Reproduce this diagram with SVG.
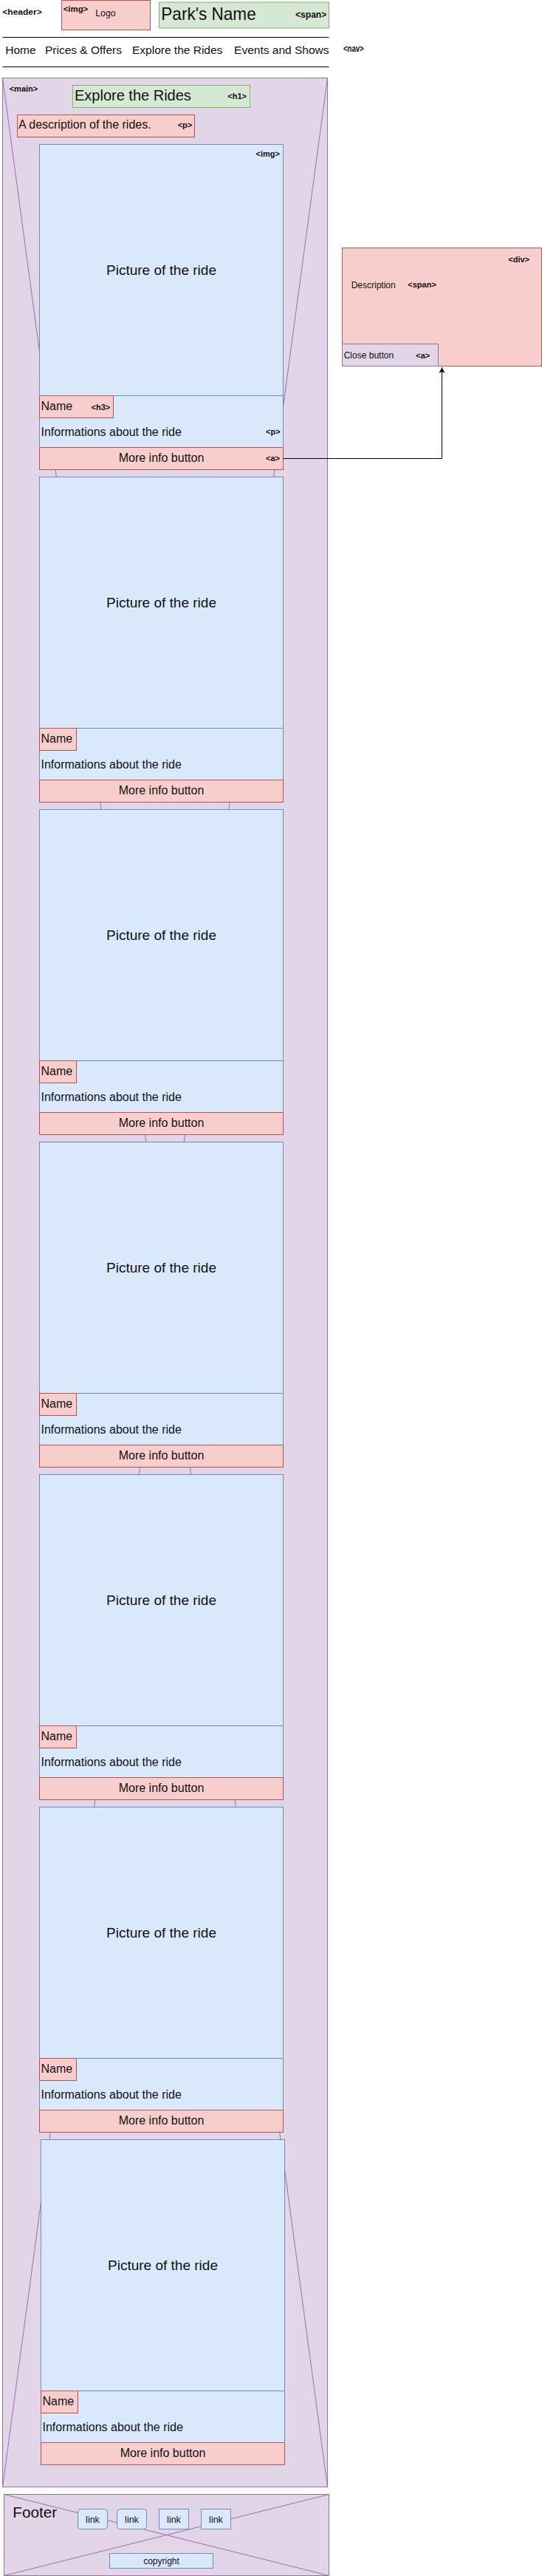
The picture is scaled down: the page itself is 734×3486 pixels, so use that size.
<svg xmlns="http://www.w3.org/2000/svg" width="734" height="3486" viewBox="0 0 734 3486">
<style>
text{font-family:"Liberation Sans",Arial,sans-serif;fill:#111}
.tag{font-weight:bold;font-size:11px}
.blue{fill:#dae8fc;stroke:#6c8ebf;stroke-width:1}
.red{fill:#f8cecc;stroke:#b85450;stroke-width:1}
.green{fill:#d5e8d4;stroke:#82b366;stroke-width:1}
.purple{fill:#e1d5e7;stroke:#9673a6;stroke-width:1}
.diag{stroke:#9673a6;stroke-width:1;fill:none}
.t16{font-size:16px}
.t19{font-size:19px}
.nav{font-size:15.5px}
.mid{text-anchor:middle}
</style>
<defs>
<marker id="arr" markerWidth="10" markerHeight="10" refX="9" refY="5" orient="auto" markerUnits="userSpaceOnUse">
<path d="M1,1 L9,5 L1,9 L3,5 Z" fill="#000"/>
</marker>
</defs>
<rect width="734" height="3486" fill="#fff"/>

<g id="header">
<text class="tag" x="3.3" y="19.5" textLength="53.4" lengthAdjust="spacingAndGlyphs">&lt;header&gt;</text>
</g>
<g id="logo">
<rect class="red" x="83.5" y="0.5" width="120" height="40"/>
<text class="tag" x="85.7" y="15.5" textLength="33.6" lengthAdjust="spacingAndGlyphs">&lt;img&gt;</text>
<text style="font-size:12px" x="129.3" y="21.5" textLength="27.3" lengthAdjust="spacingAndGlyphs">Logo</text>
</g>
<g id="parkname">
<rect class="green" x="215.5" y="3" width="230" height="35"/>
<text style="font-size:24px" x="218.3" y="26.5" textLength="128.4" lengthAdjust="spacingAndGlyphs">Park's Name</text>
<text class="tag" style="font-size:12px" x="400" y="24" textLength="42.3" lengthAdjust="spacingAndGlyphs">&lt;span&gt;</text>
</g>
<g id="nav">
<line x1="3.5" y1="50.5" x2="445.5" y2="50.5" stroke="#000" stroke-width="1"/>
<line x1="3.5" y1="90.5" x2="445.5" y2="90.5" stroke="#000" stroke-width="1"/>
<text class="nav" x="7.3" y="72.5">Home</text>
<text class="nav" x="61" y="72.5">Prices &amp; Offers</text>
<text class="nav" x="179" y="72.5">Explore the Rides</text>
<text class="nav" x="445.5" y="72.5" text-anchor="end">Events and Shows</text>
<text class="tag" style="font-size:12px" x="465" y="69.5" textLength="27.7" lengthAdjust="spacingAndGlyphs">&lt;nav&gt;</text>
</g>

<g id="main">
<rect class="purple" x="3.5" y="105.5" width="440" height="3260"/>
<line class="diag" x1="3.5" y1="105.5" x2="443.5" y2="3365.5"/>
<line class="diag" x1="443.5" y1="105.5" x2="3.5" y2="3365.5"/>
<text class="tag" x="12.7" y="124">&lt;main&gt;</text>
</g>
<g id="h1">
<rect class="green" x="98.5" y="115.5" width="240" height="30"/>
<text style="font-size:20px" x="101" y="136">Explore the Rides</text>
<text class="tag" x="308.3" y="134">&lt;h1&gt;</text>
</g>
<g id="desc">
<rect class="red" x="23.5" y="155.5" width="240" height="30"/>
<text class="t16" x="25" y="174">A description of the rides.</text>
<text class="tag" x="240.7" y="173">&lt;p&gt;</text>
</g>

<g id="card1" transform="translate(53.5,195.5)">
<rect class="blue" x="0" y="0" width="330" height="340"/>
<text class="t19 mid" x="165" y="176">Picture of the ride</text>
<text class="tag" x="293" y="16.5">&lt;img&gt;</text>
<rect class="blue" x="0" y="340" width="330" height="70"/>
<rect class="red" x="0" y="340" width="100" height="30"/>
<text class="t16" x="2" y="359.5">Name</text>
<text class="tag" x="70" y="359.5">&lt;h3&gt;</text>
<text class="t16" x="2" y="394.5">Informations about the ride</text>
<text class="tag" x="306.5" y="392.5">&lt;p&gt;</text>
<rect class="red" x="0" y="410" width="330" height="30"/>
<text class="t16 mid" x="165" y="429.5">More info button</text>
<text class="tag" x="306.5" y="428.5">&lt;a&gt;</text>
</g>

<g id="card2" transform="translate(53.5,645.5)">
<rect class="blue" x="0" y="0" width="330" height="340"/>
<text class="t19 mid" x="165" y="176">Picture of the ride</text>
<rect class="blue" x="0" y="340" width="330" height="70"/>
<rect class="red" x="0" y="340" width="50" height="30"/>
<text class="t16" x="2" y="359.5">Name</text>
<text class="t16" x="2" y="394.5">Informations about the ride</text>
<rect class="red" x="0" y="410" width="330" height="30"/>
<text class="t16 mid" x="165" y="429.5">More info button</text>
</g>

<g id="card3" transform="translate(53.5,1095.5)">
<rect class="blue" x="0" y="0" width="330" height="340"/>
<text class="t19 mid" x="165" y="176">Picture of the ride</text>
<rect class="blue" x="0" y="340" width="330" height="70"/>
<rect class="red" x="0" y="340" width="50" height="30"/>
<text class="t16" x="2" y="359.5">Name</text>
<text class="t16" x="2" y="394.5">Informations about the ride</text>
<rect class="red" x="0" y="410" width="330" height="30"/>
<text class="t16 mid" x="165" y="429.5">More info button</text>
</g>

<g id="card4" transform="translate(53.5,1545.5)">
<rect class="blue" x="0" y="0" width="330" height="340"/>
<text class="t19 mid" x="165" y="176">Picture of the ride</text>
<rect class="blue" x="0" y="340" width="330" height="70"/>
<rect class="red" x="0" y="340" width="50" height="30"/>
<text class="t16" x="2" y="359.5">Name</text>
<text class="t16" x="2" y="394.5">Informations about the ride</text>
<rect class="red" x="0" y="410" width="330" height="30"/>
<text class="t16 mid" x="165" y="429.5">More info button</text>
</g>

<g id="card5" transform="translate(53.5,1995.5)">
<rect class="blue" x="0" y="0" width="330" height="340"/>
<text class="t19 mid" x="165" y="176">Picture of the ride</text>
<rect class="blue" x="0" y="340" width="330" height="70"/>
<rect class="red" x="0" y="340" width="50" height="30"/>
<text class="t16" x="2" y="359.5">Name</text>
<text class="t16" x="2" y="394.5">Informations about the ride</text>
<rect class="red" x="0" y="410" width="330" height="30"/>
<text class="t16 mid" x="165" y="429.5">More info button</text>
</g>

<g id="card6" transform="translate(53.5,2445.5)">
<rect class="blue" x="0" y="0" width="330" height="340"/>
<text class="t19 mid" x="165" y="176">Picture of the ride</text>
<rect class="blue" x="0" y="340" width="330" height="70"/>
<rect class="red" x="0" y="340" width="50" height="30"/>
<text class="t16" x="2" y="359.5">Name</text>
<text class="t16" x="2" y="394.5">Informations about the ride</text>
<rect class="red" x="0" y="410" width="330" height="30"/>
<text class="t16 mid" x="165" y="429.5">More info button</text>
</g>

<g id="card7" transform="translate(55.5,2895.5)">
<rect class="blue" x="0" y="0" width="330" height="340"/>
<text class="t19 mid" x="165" y="176">Picture of the ride</text>
<rect class="blue" x="0" y="340" width="330" height="70"/>
<rect class="red" x="0" y="340" width="50" height="30"/>
<text class="t16" x="2" y="359.5">Name</text>
<text class="t16" x="2" y="394.5">Informations about the ride</text>
<rect class="red" x="0" y="410" width="330" height="30"/>
<text class="t16 mid" x="165" y="429.5">More info button</text>
</g>

<g id="popup">
<rect class="red" x="463.5" y="335.5" width="270" height="160"/>
<text class="tag" x="688.3" y="355">&lt;div&gt;</text>
<text style="font-size:12px" x="475.7" y="390">Description</text>
<text class="tag" x="552.3" y="388.5">&lt;span&gt;</text>
</g>
<g id="closebtn">
<rect class="purple" x="463.5" y="465.5" width="130" height="30"/>
<text style="font-size:12px" x="465.7" y="485">Close button</text>
<text class="tag" x="563.3" y="485">&lt;a&gt;</text>
</g>

<g id="connectors">
<path d="M383.5,620.5 H598.5 V497" fill="none" stroke="#000" stroke-width="1" marker-end="url(#arr)"/>
</g>

<g id="footer">
<rect class="purple" x="5.5" y="3375.5" width="440" height="110"/>
<line class="diag" x1="5.5" y1="3375.5" x2="445.5" y2="3485.5"/>
<line class="diag" x1="445.5" y1="3375.5" x2="5.5" y2="3485.5"/>
<text style="font-size:20px" x="17.3" y="3406.5" textLength="60" lengthAdjust="spacingAndGlyphs">Footer</text>
</g>
<g id="link1"><rect class="blue" x="105.5" y="3395.5" width="40" height="27" rx="4"/><text class="mid" style="font-size:12.5px" x="125.5" y="3414">link</text></g>
<g id="link2"><rect class="blue" x="158.5" y="3395.5" width="40" height="27" rx="4"/><text class="mid" style="font-size:12.5px" x="178.5" y="3414">link</text></g>
<g id="link3"><rect class="blue" x="215.5" y="3395.5" width="40" height="27"/><text class="mid" style="font-size:12.5px" x="235.5" y="3414">link</text></g>
<g id="link4"><rect class="blue" x="272.5" y="3395.5" width="40" height="27"/><text class="mid" style="font-size:12.5px" x="292.5" y="3414">link</text></g>
<g id="copyright"><rect class="blue" x="148.5" y="3455.5" width="140" height="20"/><text class="mid" style="font-size:12px" x="218.5" y="3470">copyright</text></g>
</svg>
